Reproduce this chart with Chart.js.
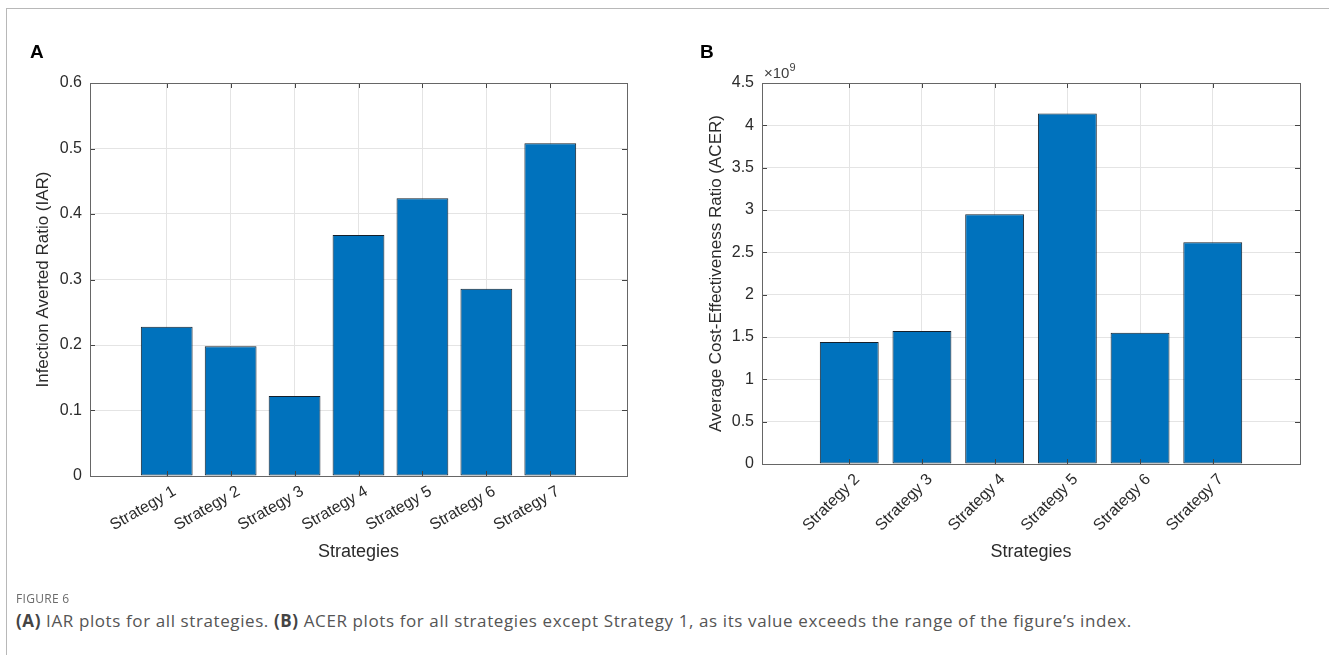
<!DOCTYPE html>
<html>
<head>
<meta charset="utf-8">
<script src="https://cdn.jsdelivr.net/npm/chart.js@4.4.1/dist/chart.umd.min.js"></script>
<style>
html, body { margin: 0; padding: 0; background: #fff; }
body { width: 1329px; height: 655px; position: relative; overflow: hidden; font-family: "Liberation Sans", Arial, sans-serif; }
.frame { position: absolute; left: 6px; top: 8px; width: 1400px; height: 700px; border-left: 1px solid #b8b8b8; border-top: 1px solid #b8b8b8; }
canvas { position: absolute; top: 0; }
#chartA { left: 0; }
#chartB { left: 664px; }
.letter { position: absolute; top: 41px; font: bold 19px "Liberation Sans", Arial, sans-serif; color: #000; }
.exp { position: absolute; left: 764px; top: 62px; font: 15px "Liberation Sans", Arial, sans-serif; color: #404040; }
.exp sup { font-size: 11px; position: relative; top: -1px; }
.fig { position: absolute; left: 16px; top: 590px; font: 12px "Open Sans", sans-serif; color: #6b6b6b; letter-spacing: 0.3px; }
.caption { position: absolute; left: 16px; top: 609px; font: 17px "Open Sans", sans-serif; color: #555; letter-spacing: 0.6px; white-space: nowrap; }
.caption b { font-weight: 700; color: #444; }
</style>
</head>
<body>
<div class="frame"></div>
<canvas id="chartA" width="665" height="600"></canvas>
<canvas id="chartB" width="665" height="600"></canvas>
<div class="letter" style="left:30px">A</div>
<div class="letter" style="left:700px">B</div>
<div class="exp">&times;10<sup>9</sup></div>
<div class="fig">FIGURE 6</div>
<div class="caption"><b>(A)</b> IAR plots for all strategies. <b>(B)</b> ACER plots for all strategies except Strategy 1, as its value exceeds the range of the figure’s index.</div>

<script>
// panel A data
let iarLabels = ["Strategy 1", "Strategy 2", "Strategy 3", "Strategy 4", "Strategy 5", "Strategy 6", "Strategy 7"];
let iarValues = [0.228, 0.198, 0.122, 0.368, 0.424, 0.286, 0.508];
let iarTicks = [0, 0.1, 0.2, 0.3, 0.4, 0.5, 0.6];

// panel B data (Strategy 1 left out)
let acerLabels = ["Strategy 2", "Strategy 3", "Strategy 4", "Strategy 5", "Strategy 6", "Strategy 7"];
let acerValues = [1.44e9, 1.57e9, 2.95e9, 4.14e9, 1.55e9, 2.62e9];
let acerTicks = [0, 0.5e9, 1e9, 1.5e9, 2e9, 2.5e9, 3e9, 3.5e9, 4e9, 4.5e9];

const barBlue = "#0072bd";
const textGray = "#2b2b2b";

// matlab style box + inner tick marks
const matlabBox = {
  id: "matlabBox",
  afterDatasetsDraw(chart) {
    const { ctx, chartArea: a, scales } = chart;
    const x = scales.x, y = scales.y;
    ctx.save();
    ctx.strokeStyle = "#444";
    ctx.lineWidth = 1;
    ctx.beginPath();
    y.ticks.forEach((t) => {
      let py = Math.round(y.getPixelForValue(t.value)) + 0.5;
      ctx.moveTo(a.left, py); ctx.lineTo(a.left + 5, py);
      ctx.moveTo(a.right, py); ctx.lineTo(a.right - 5, py);
    });
    x.ticks.forEach((t) => {
      let px = Math.round(x.getPixelForValue(t.value)) + 0.5;
      ctx.moveTo(px, a.bottom); ctx.lineTo(px, a.bottom - 5);
      ctx.moveTo(px, a.top); ctx.lineTo(px, a.top + 5);
    });
    ctx.stroke();
    ctx.strokeStyle = "#666";
    ctx.strokeRect(Math.round(a.left) + 0.5, Math.round(a.top) + 0.5,
      Math.round(a.right - a.left), Math.round(a.bottom - a.top));
    ctx.restore();
  }
};

function makeChart(id, labels, values, yTicks, opts) {
  let points = labels.map((l, i) => ({ x: i + 1, y: values[i] }));
  return new Chart(document.getElementById(id), {
    type: "bar",
    data: {
      datasets: [{
        data: points,
        backgroundColor: barBlue,
        borderColor: "#15202b",
        borderWidth: 1,
        borderSkipped: false,
        barPercentage: 0.81,
        categoryPercentage: 1
      }]
    },
    options: {
      responsive: false,
      animation: false,
      events: [],
      layout: { padding: { top: 83, right: opts.padRight, bottom: 0, left: 0 } },
      plugins: { legend: { display: false }, tooltip: { enabled: false } },
      scales: {
        x: {
          type: "linear",
          offset: false,
          min: 1 - 1.2,
          max: labels.length + 1.2,
          afterBuildTicks(s) { s.ticks = labels.map((l, i) => ({ value: i + 1 })); },
          afterFit(s) { s.height = opts.xHeight; },
          border: { display: false },
          grid: { offset: false, color: "#e4e4e4", drawTicks: false },
          ticks: {
            autoSkip: false,
            minRotation: opts.rot,
            maxRotation: opts.rot,
            padding: 6,
            labelOffset: 8,
            color: textGray,
            font: { family: "Liberation Sans", size: 16 },
            callback: (v) => labels[v - 1]
          },
          title: {
            display: true,
            text: "Strategies",
            color: textGray,
            font: { family: "Liberation Sans", size: 18 },
            padding: { top: 0, bottom: 37 }
          }
        },
        y: {
          min: 0,
          max: yTicks[yTicks.length - 1],
          afterBuildTicks(s) { s.ticks = yTicks.map((v) => ({ value: v })); },
          afterFit(s) { s.width = opts.yWidth; },
          border: { display: false },
          grid: { color: "#e4e4e4", drawTicks: false },
          ticks: {
            padding: 8,
            color: textGray,
            font: { family: "Liberation Sans", size: 16 },
            callback: (v) => String(parseFloat((v / opts.scaleBy).toFixed(1)))
          },
          title: {
            display: true,
            text: opts.yTitle,
            color: textGray,
            font: { family: "Liberation Sans", size: 17 },
            padding: { top: opts.yTitlePad, bottom: 0 }
          }
        }
      }
    },
    plugins: [matlabBox]
  });
}

makeChart("chartA", iarLabels, iarValues, iarTicks, {
  padRight: 38, xHeight: 124, yWidth: 90, rot: 30, scaleBy: 1,
  yTitle: "Infection Averted Ratio (IAR)", yTitlePad: 33
});

makeChart("chartB", acerLabels, acerValues, acerTicks, {
  padRight: 29, xHeight: 136, yWidth: 98, rot: 45, scaleBy: 1e9,
  yTitle: "Average Cost-Effectiveness Ratio (ACER)", yTitlePad: 42
});
</script>
</body>
</html>
